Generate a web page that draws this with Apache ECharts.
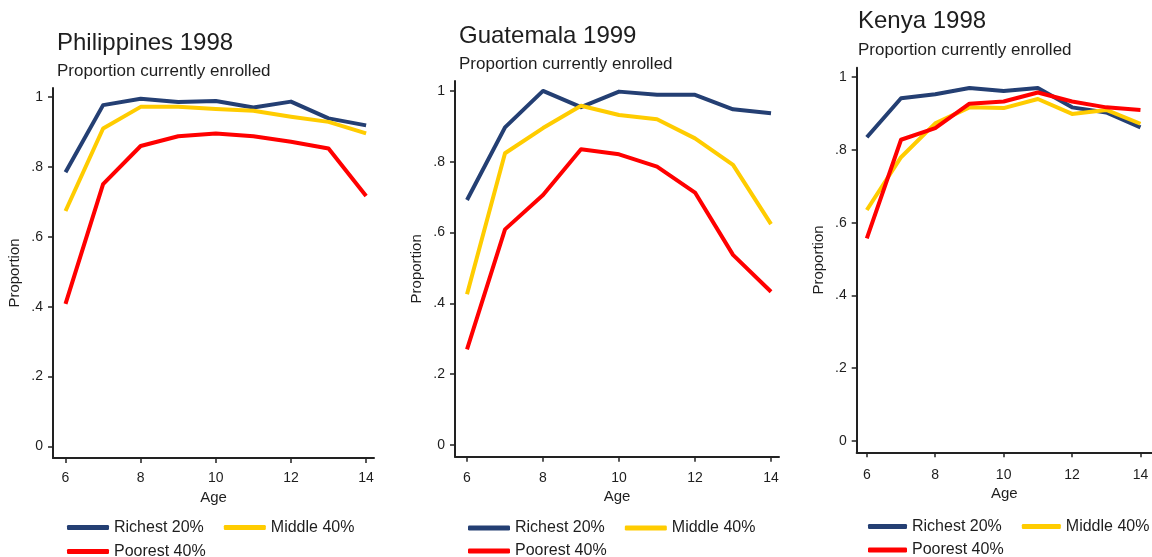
<!DOCTYPE html>
<html>
<head>
<meta charset="utf-8">
<script src="https://cdn.jsdelivr.net/npm/echarts@6/dist/echarts.min.js"></script>
<style>
  html, body { margin: 0; padding: 0; background: #ffffff; }
  #chart { width: 1152px; height: 557px; }
</style>
</head>
<body>
<div id="chart"></div>
<script>
// ---- Data ----
const ages = [6, 7, 8, 9, 10, 11, 12, 13, 14];
const groupNames = ['Richest 20%', 'Middle 40%', 'Poorest 40%'];
const panelTitles = ['Philippines 1998', 'Guatemala 1999', 'Kenya 1998'];
const subtitleText = 'Proportion currently enrolled';
const xTickValues = [6, 8, 10, 12, 14];
const yTickValues = [0, 0.2, 0.4, 0.6, 0.8, 1];

const phlRichest = [0.785, 0.977, 0.995, 0.986, 0.989, 0.970, 0.987, 0.939, 0.919];
const phlMiddle  = [0.674, 0.910, 0.972, 0.972, 0.966, 0.961, 0.944, 0.929, 0.896];
const phlPoorest = [0.408, 0.751, 0.860, 0.888, 0.896, 0.888, 0.872, 0.853, 0.717];

const gtmRichest = [0.692, 0.897, 1.000, 0.954, 0.998, 0.989, 0.989, 0.948, 0.937];
const gtmMiddle  = [0.426, 0.824, 0.895, 0.958, 0.932, 0.920, 0.866, 0.791, 0.624];
const gtmPoorest = [0.270, 0.609, 0.706, 0.835, 0.821, 0.786, 0.713, 0.537, 0.433];

const kenRichest = [0.835, 0.942, 0.953, 0.970, 0.962, 0.970, 0.917, 0.903, 0.862];
const kenMiddle  = [0.635, 0.780, 0.873, 0.917, 0.915, 0.940, 0.899, 0.910, 0.872];
const kenPoorest = [0.557, 0.828, 0.860, 0.927, 0.933, 0.958, 0.933, 0.917, 0.910];

const panelData = [
  [phlRichest, phlMiddle, phlPoorest],
  [gtmRichest, gtmMiddle, gtmPoorest],
  [kenRichest, kenMiddle, kenPoorest]
];

// ---- Styling / layout ----
const FONT = "'Liberation Sans', Arial, sans-serif";
const TEXT = '#1e1e1e';
const colors = ['#243f73', '#ffcc00', '#ff0000'];

const layouts = [
  { grid: { left: 53, top: 88, width: 321, height: 370 }, xMin: 5.667, xMax: 14.21, yMin: -0.033, yMax: 1.026,
    title: { left: 57, top: 31.7, gap: 6.9 }, nameGapY: 31, nameGapX: 26, xMargin: 13, legend: { left: 67, top1: 519.5, top2: 543.5, w: 42 } },
  { grid: { left: 455, top: 81, width: 324, height: 375.7 }, xMin: 5.684, xMax: 14.21, yMin: -0.033, yMax: 1.028,
    title: { left: 459, top: 24.7, gap: 6.9 }, nameGapY: 31, nameGapX: 27.5, xMargin: 14, legend: { left: 468, top1: 520, top2: 543, w: 42 } },
  { grid: { left: 856.7, top: 67.7, width: 300, height: 384.6 }, xMin: 5.704, xMax: 14.337, yMin: -0.031, yMax: 1.026,
    title: { left: 858, top: 9.7, gap: 7.9 }, nameGapY: 30, nameGapX: 29, xMargin: 15.5, legend: { left: 868, top1: 518.5, top2: 542, w: 39 } }
];

function yFmt(v) {
  if (Math.abs(v) < 1e-9) return '0';
  if (Math.abs(v - 1) < 1e-9) return '1';
  return String(Math.round(v * 10) / 10).replace(/^0\./, '.');
}

const grids = [], xAxes = [], yAxes = [], series = [], titles = [], legends = [];

layouts.forEach((L, p) => {
  grids.push(Object.assign({ containLabel: false }, L.grid));
  titles.push({
    text: panelTitles[p],
    subtext: subtitleText,
    left: L.title.left,
    top: L.title.top,
    padding: 0,
    itemGap: L.title.gap,
    textStyle: { fontFamily: FONT, fontSize: 24, fontWeight: 'normal', color: TEXT },
    subtextStyle: { fontFamily: FONT, fontSize: 17, color: TEXT }
  });
  xAxes.push({
    type: 'value', gridIndex: p, min: L.xMin, max: L.xMax,
    name: 'Age', nameLocation: 'middle', nameGap: L.nameGapX,
    nameTextStyle: { fontFamily: FONT, fontSize: 15, color: TEXT },
    axisLine: { show: true, onZero: false, lineStyle: { color: '#222', width: 2 } },
    axisTick: { show: true, length: 5, customValues: xTickValues, lineStyle: { color: '#222', width: 1.5 } },
    axisLabel: { customValues: xTickValues, margin: L.xMargin, fontFamily: FONT, fontSize: 14, color: TEXT },
    splitLine: { show: false }
  });
  yAxes.push({
    type: 'value', gridIndex: p, min: L.yMin, max: L.yMax,
    name: 'Proportion', nameLocation: 'middle', nameGap: L.nameGapY,
    nameTextStyle: { fontFamily: FONT, fontSize: 15, color: TEXT },
    axisLine: { show: true, onZero: false, lineStyle: { color: '#222', width: 2 } },
    axisTick: { show: true, length: 5, customValues: yTickValues, lineStyle: { color: '#222', width: 1.5 } },
    axisLabel: { customValues: yTickValues, margin: 10, fontFamily: FONT, fontSize: 14, color: TEXT, formatter: yFmt },
    splitLine: { show: false }
  });
  panelData[p].forEach((vals, g) => {
    series.push({
      type: 'line', name: groupNames[g], xAxisIndex: p, yAxisIndex: p,
      data: ages.map((a, i) => [a, vals[i]]),
      showSymbol: false, symbol: 'none',
      color: colors[g],
      lineStyle: { color: colors[g], width: 4, join: 'round' },
      z: 2 + g
    });
  });
  const common = {
    orient: 'horizontal', padding: 0, itemGap: 20, icon: 'roundRect',
    itemWidth: L.legend.w, itemHeight: 5, selectedMode: false,
    textStyle: { fontFamily: FONT, fontSize: 16, color: TEXT }
  };
  legends.push(Object.assign({}, common, { left: L.legend.left, top: L.legend.top1, data: [groupNames[0], groupNames[1]] }));
  legends.push(Object.assign({}, common, { left: L.legend.left, top: L.legend.top2, data: [groupNames[2]] }));
});

const chart = echarts.init(document.getElementById('chart'), null, { renderer: 'canvas' });
chart.setOption({
  backgroundColor: '#ffffff',
  animation: false,
  title: titles,
  legend: legends,
  grid: grids,
  xAxis: xAxes,
  yAxis: yAxes,
  series: series
});
</script>
</body>
</html>
